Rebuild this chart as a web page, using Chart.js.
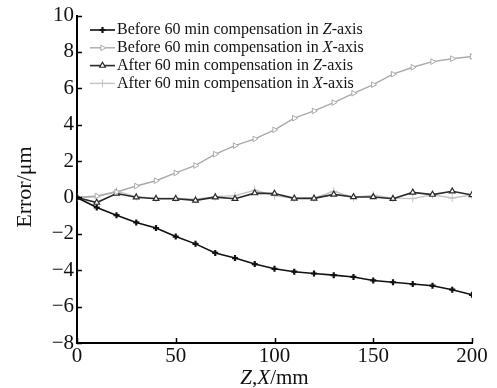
<!DOCTYPE html>
<html>
<head>
<meta charset="utf-8">
<script src="https://cdn.jsdelivr.net/npm/chart.js@4"></script>
<style>
html, body { margin: 0; padding: 0; background: #fff; }
#wrap { width: 497px; height: 388px; }
</style>
</head>
<body>
<div id="wrap"><canvas id="chart" width="497" height="388"></canvas></div>
<script>
const xValues = [0, 10, 20, 30, 40, 50, 60, 70, 80, 90, 100, 110, 120, 130, 140, 150, 160, 170, 180, 190, 200]
const beforeZ = [0, -0.55, -0.97, -1.37, -1.68, -2.15, -2.55, -3.05, -3.33, -3.66, -3.92, -4.08, -4.18, -4.27, -4.37, -4.56, -4.66, -4.76, -4.85, -5.07, -5.35]
const beforeX = [0, 0.08, 0.3, 0.63, 0.92, 1.35, 1.76, 2.38, 2.85, 3.22, 3.72, 4.36, 4.76, 5.22, 5.73, 6.2, 6.78, 7.16, 7.47, 7.63, 7.75]
const afterZ = [0, -0.28, 0.22, 0.01, -0.07, -0.07, -0.16, 0.02, -0.07, 0.24, 0.22, -0.05, -0.05, 0.17, 0.03, 0.03, -0.07, 0.28, 0.16, 0.34, 0.14]
const afterX = [0, 0.04, 0.34, 0.05, -0.04, -0.04, -0.1, 0.05, 0.1, 0.4, 0.1, -0.04, -0.04, 0.34, 0.0, 0.12, -0.04, -0.06, 0.15, -0.03, 0.14]
const xTicks = [0, 50, 100, 150, 200]
const yTicks = [-8, -6, -4, -2, 0, 2, 4, 6, 8, 10]
const legendLabels = [
  ['Before 60 min compensation in ', 'Z', '-axis'],
  ['Before 60 min compensation in ', 'X', '-axis'],
  ['After 60 min compensation in ', 'Z', '-axis'],
  ['After 60 min compensation in ', 'X', '-axis']
]

const SERIF = '"Liberation Serif", "Times New Roman", serif'

const pts = ys => xValues.map((x, i) => ({ x, y: ys[i] }))

const datasets = [
  { data: pts(beforeZ), borderColor: '#111', backgroundColor: '#111', borderWidth: 1.6,
    pointStyle: 'cross', pointRadius: 3, pointBorderWidth: 2.2 },
  { data: pts(beforeX), borderColor: '#aaa', backgroundColor: '#fff', borderWidth: 1.4,
    pointStyle: 'triangle', pointRotation: 90, pointRadius: 3.3, pointBorderWidth: 1 },
  { data: pts(afterZ), borderColor: '#2a2a2a', backgroundColor: '#fff', borderWidth: 1.6,
    pointStyle: 'triangle', pointRadius: 3.3, pointBorderWidth: 1.2 },
  { data: pts(afterX), borderColor: '#c4c4c4', backgroundColor: '#c4c4c4', borderWidth: 1.4,
    pointStyle: 'cross', pointRadius: 4, pointBorderWidth: 1 }
]

// inward tick marks, custom legend and axis titles (mixed italic text)
const decorations = {
  id: 'decorations',
  afterDraw(chart) {
    const ctx = chart.ctx
    const { x, y } = chart.scales
    const area = chart.chartArea
    ctx.save()
    ctx.strokeStyle = '#000'
    ctx.lineWidth = 1.5
    ctx.beginPath()
    yTicks.forEach(v => {
      const py = Math.round(y.getPixelForValue(v)) + 0.5
      ctx.moveTo(area.left, py)
      ctx.lineTo(area.left + 5, py)
    })
    xTicks.forEach(v => {
      const px = Math.round(x.getPixelForValue(v)) + 0.5
      ctx.moveTo(px, area.bottom)
      ctx.lineTo(px, area.bottom - 5)
    })
    ctx.stroke()

    // legend
    const helpers = Chart.helpers
    ctx.textBaseline = 'middle'
    legendLabels.forEach((parts, i) => {
      const ds = datasets[i]
      const ly = 30 + i * 17.8
      ctx.strokeStyle = ds.borderColor
      ctx.lineWidth = ds.borderWidth
      ctx.beginPath()
      ctx.moveTo(90, ly)
      ctx.lineTo(115, ly)
      ctx.stroke()
      if (helpers && helpers.drawPoint) {
        ctx.fillStyle = ds.backgroundColor
        ctx.lineWidth = ds.pointBorderWidth
        helpers.drawPoint(ctx, { pointStyle: ds.pointStyle, rotation: ds.pointRotation || 0,
          radius: ds.pointRadius, borderWidth: ds.pointBorderWidth }, 102.5, ly)
      }
      let tx = 117
      ctx.fillStyle = '#111'
      parts.forEach((p, k) => {
        ctx.font = (k === 1 ? 'italic ' : '') + '16px ' + SERIF
        ctx.fillText(p, tx, ly)
        tx += ctx.measureText(p).width
      })
    })

    // x axis title: Z,X/mm
    const xParts = [['Z', true], [',', false], ['X', true], ['/mm', false]]
    let total = 0
    xParts.forEach(([t, it]) => {
      ctx.font = (it ? 'italic ' : '') + '21px ' + SERIF
      total += ctx.measureText(t).width
    })
    let tx = (area.left + area.right) / 2 - total / 2
    ctx.textBaseline = 'alphabetic'
    ctx.fillStyle = '#111'
    xParts.forEach(([t, it]) => {
      ctx.font = (it ? 'italic ' : '') + '21px ' + SERIF
      ctx.fillText(t, tx, 384)
      tx += ctx.measureText(t).width
    })

    // y axis title
    ctx.translate(31, 187)
    ctx.rotate(-Math.PI / 2)
    ctx.font = '22px ' + SERIF
    ctx.textAlign = 'center'
    ctx.fillText('Error/\u03bcm', 0, 0)
    ctx.restore()
  }
}

new Chart(document.getElementById('chart'), {
  type: 'line',
  data: { datasets },
  options: {
    responsive: false,
    animation: false,
    devicePixelRatio: 1,
    layout: { padding: { top: 15, right: 25, left: 0, bottom: 0 } },
    plugins: { legend: { display: false }, tooltip: { enabled: false } },
    elements: { line: { tension: 0 } },
    scales: {
      x: {
        type: 'linear', min: 0, max: 200,
        afterBuildTicks: s => { s.ticks = xTicks.map(v => ({ value: v })) },
        afterFit: s => { s.height = 45 },
        grid: { display: false, drawTicks: false },
        border: { display: true, color: '#000', width: 2 },
        ticks: { color: '#111', padding: 1, maxRotation: 0, autoSkip: false,
          font: { family: SERIF, size: 21 } }
      },
      y: {
        type: 'linear', min: -8, max: 10,
        afterBuildTicks: s => { s.ticks = yTicks.map(v => ({ value: v })) },
        afterFit: s => { s.width = 77 },
        grid: { display: false, drawTicks: false },
        border: { display: true, color: '#000', width: 2 },
        ticks: { color: '#111', padding: 3, autoSkip: false,
          font: { family: SERIF, size: 21 },
          callback: v => String(v).replace('-', '\u2212') }
      }
    }
  },
  plugins: [decorations]
})
</script>
</body>
</html>
